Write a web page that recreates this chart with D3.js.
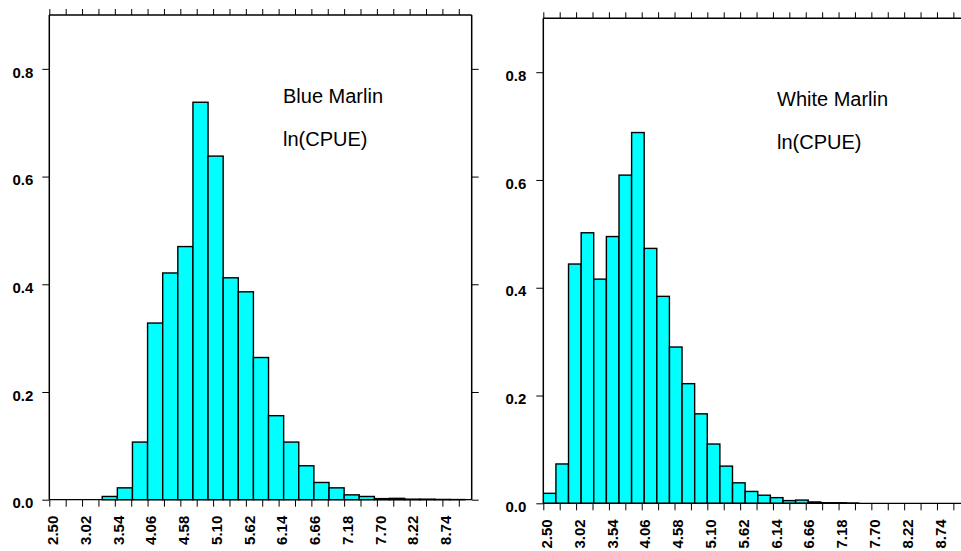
<!DOCTYPE html>
<html>
<head>
<meta charset="utf-8">
<script src="https://cdn.jsdelivr.net/npm/d3@7"></script>
<style>
  body { margin: 0; background: #fff; }
  svg { display: block; }
  .axis text { font-family: "Liberation Sans", Arial, sans-serif; font-weight: bold; font-size: 15px; fill: #000; }
  .axis line { stroke: #000; stroke-width: 1; }
  .axis path { display: none; }
  .label { font-family: "Liberation Sans", Arial, sans-serif; font-size: 20px; fill: #000; }
</style>
</head>
<body>
<svg id="chart" width="961" height="551"></svg>
<script>
/*	Data -------------------------------------------------------------------------*/
var xTickLabels = ["2.50","3.02","3.54","4.06","4.58","5.10","5.62","6.14","6.66","7.18","7.70","8.22","8.74"];
var yTickValues = [0.0, 0.2, 0.4, 0.6, 0.8];

/*	Blue Marlin: bin starts (width 0.24) and density -------------------------------*/
var blueBinWidth = 0.24;
var blueBinStart = [3.34,3.58,3.82,4.06,4.30,4.54,4.78,5.02,5.26,5.50,5.74,5.98,6.22,6.46,6.70,6.94,7.18,7.42,7.66,7.90,8.14,8.38,8.62,8.86];
var blueDensity  = [0.006,0.022,0.107,0.328,0.421,0.470,0.738,0.638,0.412,0.386,0.264,0.156,0.107,0.063,0.032,0.022,0.009,0.006,0.002,0.0025,0.001,0.001,0.0005,0.0003];

/*	White Marlin: bin starts (width 0.2) and density -------------------------------*/
var whiteBinWidth = 0.199;
var whiteBinStart = [2.50,2.70,2.90,3.10,3.30,3.50,3.70,3.90,4.10,4.30,4.50,4.70,4.90,5.10,5.30,5.50,5.70,5.90,6.10,6.30,6.50,6.70,6.90,7.10,7.30];
var whiteDensity  = [0.0185,0.073,0.444,0.502,0.416,0.495,0.609,0.688,0.473,0.384,0.290,0.222,0.166,0.110,0.069,0.038,0.022,0.015,0.0105,0.005,0.006,0.0025,0.001,0.001,0.0005];

var svg = d3.select("#chart");

/*	Draw one histogram panel ------------------------------------------------------*/
var drawPanel = function(p) {
	var xScale = d3.scaleLinear().domain([2.50, 9.205]).range([p.left, p.right]);
	var yScale = d3.scaleLinear().domain([0, 0.9]).range([p.bottom, p.top]);
	var g = svg.append("g");

	var xTicks = d3.range(26).map(function(i){ return 2.50 + 0.26 * i; });

	/*	bars ----------------------------------------------------------------------*/
	var clip = "clip" + p.id;
	svg.append("clipPath").attr("id", clip)
		.append("rect")
		.attr("x", p.left).attr("y", p.top - 2)
		.attr("width", p.right - p.left).attr("height", p.bottom - p.top + 4);

	g.append("g").attr("clip-path", "url(#" + clip + ")")
		.selectAll("rect")
		.data(p.starts)
		.enter()
		.append("rect")
		.attr("x", function(d){ return xScale(d); })
		.attr("y", function(d,i){ return yScale(p.values[i]); })
		.attr("width", function(d){ return xScale(d + p.binWidth) - xScale(d); })
		.attr("height", function(d,i){ return yScale(0) - yScale(p.values[i]); })
		.style("fill", "#00ffff")
		.style("stroke", "#000")
		.style("stroke-width", "1.4");

	/*	frame -----------------------------------------------------------------------*/
	g.append("line").attr("x1", p.left).attr("x2", p.left).attr("y1", p.top).attr("y2", p.bottom)
		.style("stroke", "#000").style("stroke-width", "1.5");
	g.append("line").attr("x1", p.left).attr("x2", p.frameRight).attr("y1", p.top).attr("y2", p.top)
		.style("stroke", "#000").style("stroke-width", "1.5");
	g.append("line").attr("x1", p.left).attr("x2", p.frameRight).attr("y1", p.bottom).attr("y2", p.bottom)
		.style("stroke", "#000").style("stroke-width", "1.2");
	if (p.rightSide) {
		g.append("line").attr("x1", p.right).attr("x2", p.right).attr("y1", p.top).attr("y2", p.bottom)
			.style("stroke", "#000").style("stroke-width", "1.5");
	}

	/*	x axis bottom --------------------------------------------------------------*/
	var xAxis = d3.axisBottom(xScale)
		.tickValues(xTicks)
		.tickSize(7)
		.tickFormat(function(d,i){ return i % 2 === 0 ? xTickLabels[i / 2] : ""; });
	g.append("g").attr("class", "axis")
		.attr("transform", "translate(0," + p.bottom + ")")
		.call(xAxis)
		.selectAll("text")
		.attr("transform", "rotate(-90)")
		.attr("x", -16)
		.attr("y", 0)
		.attr("dy", "0.55em")
		.style("text-anchor", "end");

	/*	x axis top (ticks only) ----------------------------------------------------*/
	g.append("g").attr("class", "axis")
		.attr("transform", "translate(0," + p.top + ")")
		.call(d3.axisTop(xScale).tickValues(xTicks).tickSize(6).tickFormat(""));

	/*	y axis -----------------------------------------------------------------------*/
	g.append("g").attr("class", "axis")
		.attr("transform", "translate(" + p.left + ",0)")
		.call(d3.axisLeft(yScale).tickValues(yTickValues).tickSize(7).tickPadding(p.yPad).tickFormat(d3.format(".1f")))
		.selectAll("text")
		.attr("dy", "0.55em");
	if (p.rightSide) {
		g.append("g").attr("class", "axis")
			.attr("transform", "translate(" + p.right + ",0)")
			.call(d3.axisRight(yScale).tickValues(yTickValues).tickSize(7).tickFormat(""));
	}

	/*	panel labels ---------------------------------------------------------------*/
	g.append("text").attr("class", "label")
		.attr("x", p.labelX).attr("y", p.labelY)
		.text(p.title);
	g.append("text").attr("class", "label")
		.attr("x", p.labelX).attr("y", p.labelY + 43)
		.text("ln(CPUE)");
};

drawPanel({
	id: "blue", left: 49.3, right: 471.7, frameRight: 471.7, top: 15, bottom: 499.7,
	rightSide: true, yPad: 9,
	starts: blueBinStart, values: blueDensity, binWidth: blueBinWidth,
	title: "Blue Marlin", labelX: 283, labelY: 103
});

drawPanel({
	id: "white", left: 543.3, right: 966.3, frameRight: 961, top: 18.3, bottom: 503.3,
	rightSide: false, yPad: 10,
	starts: whiteBinStart, values: whiteDensity, binWidth: whiteBinWidth,
	title: "White Marlin", labelX: 777, labelY: 106
});
</script>
</body>
</html>
